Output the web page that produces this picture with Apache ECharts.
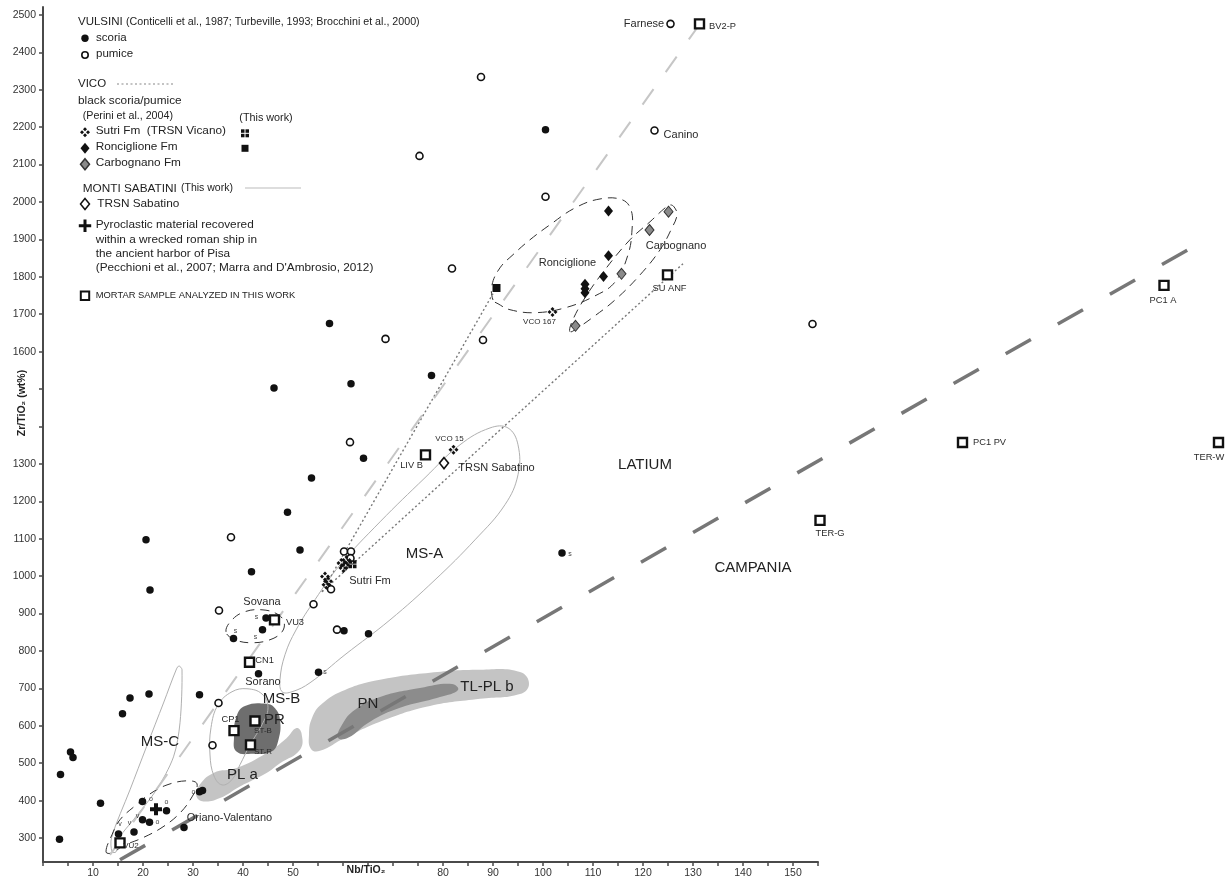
<!DOCTYPE html>
<html><head><meta charset="utf-8">
<script src="https://cdn.jsdelivr.net/npm/echarts@6/dist/echarts.min.js"></script>
<style>html,body{margin:0;padding:0;background:#fff}#c{width:1226px;height:881px}</style>
</head><body><div id="c"></div>
<script>
// ---------------- DATA (Nb/TiO2, Zr/TiO2) ----------------
const xTickValues = [0,5,10,15,20,25,30,35,40,45,50,55,60,65,70,75,80,85,90,95,100,105,110,115,120,125,130,135,140,145,150,155];
const xLabelValues = [10,20,30,40,50,80,90,100,110,120,130,140,150];
const yTickValues = [300,400,500,600,700,800,900,1000,1100,1200,1300,1400,1500,1600,1700,1800,1900,2000,2100,2200,2300,2400,2500];
const yLabelValues = [300,400,500,600,700,800,900,1000,1100,1200,1300,1600,1700,1800,1900,2000,2100,2200,2300,2400,2500];

const vulsiniScoria = [[100.5,2193],[57.3,1675],[77.7,1536],[61.6,1514],[46.2,1503],[64.1,1315],[53.7,1262],[48.9,1171],[20.6,1097],[51.4,1070],[41.7,1012],[21.4,963],[103.8,1062],[44.6,888],[43.9,857],[38.1,833],[60.2,854],[65.1,846],[43.1,739],[55.1,743],[17.4,674],[21.2,685],[31.3,683],[15.9,632],[31.9,427],[31.3,424],[11.5,393],[19.9,398],[24.7,373],[19.9,349],[21.3,342],[18.2,316],[15.1,311],[28.2,328],[3.5,470],[5.5,530],[6.0,515],[3.3,297]];
const vulsiniPumice = [[125.5,2476],[87.6,2334],[75.3,2123],[122.3,2191],[100.5,2014],[81.8,1822],[68.5,1634],[88.0,1631],[61.4,1358],[60.2,1066],[61.6,1066],[61.5,1048],[57.6,965],[37.6,1104],[35.2,908],[54.1,925],[58.8,857],[35.1,661],[33.9,548],[153.9,1674]];
const vicoSutri = [[101.9,1706],[82.1,1338],[59.7,1035],[60.4,1030],[60.1,1022],[60.7,1043],[56.4,999],[57.0,986],[56.7,977]];
const sutriThisWork = [[61.9,1032]];
const vicoRonciglione = [[113.1,1976],[113.1,1856],[112.1,1801],[108.4,1780],[108.4,1768],[108.4,1757]];
const ronciglioneThisWork = [[90.7,1770]];
const vicoCarbognano = [[125.1,1974],[121.3,1925],[115.7,1808],[106.5,1669]];
const trsnSabatino = [[80.2,1302]];
const pisaShip = [[22.6,377]];
const mortarNames = ['BV2-P','SU ANF','PC1 A','LIV B','PC1 PV','TER-W','TER-G','VU3','CN1','CP1','ST-B','ST-R','VU2'];
const mortarNb = [131.3,124.9,224.2,76.5,183.9,235.1,155.4,46.3,41.3,38.2,42.4,41.5,15.4];
const mortarZr = [2476,1805,1777,1324,1357,1357,1149,883,770,587,613,549,287];

// fields / envelopes
const fieldMSC = [[13.8,263],[13.7,301],[17.4,429],[20.7,544],[24.1,661],[26.7,752],[27.2,760],[27.8,750],[27.4,608],[26.1,517],[22.7,429],[18.1,349],[15.4,303],[14.6,263]];
const fieldMSB = [[40.8,699],[37.8,691],[35.0,656],[33.6,595],[33.4,522],[34.2,466],[35.8,442],[37.8,456],[39.4,496],[41.4,549],[43.8,603],[45.0,648],[43.8,685]];
const fieldPR = [[40.4,653],[44.7,659],[46.4,647],[47.4,616],[47.1,563],[45.7,531],[42.1,525],[38.7,531],[38.2,571],[38.7,625]];
const fieldPLa = [[30.7,411],[31.1,438],[34.1,474],[38.7,487],[44.7,527],[48.7,567],[50.7,594],[51.7,580],[51.4,536],[47.4,500],[44.7,474],[39.4,438],[35.4,407],[32.1,398]];
const fieldTLPLb = [[53.2,576],[53.8,621],[55.8,659],[60.4,696],[67.4,723],[77.4,742],[87.4,750],[95.4,744],[97.2,712],[95.4,685],[87.4,672],[77.4,653],[68.4,616],[60.4,568],[55.4,533],[53.6,538]];
const fieldPN = [[59.0,568],[59.8,603],[62.4,643],[67.4,677],[75.4,701],[81.8,712],[83.0,696],[79.4,677],[71.4,648],[65.4,611],[61.0,568]];
const fieldMSA = [[47.4,723],[48.4,790],[50.6,856],[54.4,937],[59.4,1030],[67.4,1145],[76.4,1263],[83.4,1351],[89.4,1396],[93.0,1396],[95.0,1351],[95.0,1271],[92.4,1191],[86.4,1097],[78.4,990],[69.4,883],[60.4,790],[53.4,715],[49.8,691],[47.8,691]];
const loopRonciglione = [[90.0,1738],[89.8,1778],[91.4,1824],[94.0,1859],[97.4,1899],[101.4,1939],[106.4,1984],[111.4,2008],[115.8,2006],[117.6,1979],[117.8,1925],[117.0,1859],[114.4,1786],[110.4,1749],[104.4,1717],[98.4,1704],[93.4,1712],[91.0,1728]];
const loopCarbognano = [[105.4,1653],[105.8,1680],[108.4,1744],[112.4,1819],[117.4,1899],[121.4,1947],[124.4,1984],[125.4,1992],[126.2,1987],[126.8,1966],[125.8,1931],[123.4,1872],[119.4,1805],[114.4,1738],[109.8,1690],[107.0,1664]];
const loopSovana = [[36.6,851],[37.8,883],[40.4,905],[43.8,910],[46.8,899],[48.2,878],[47.8,851],[45.4,830],[41.8,822],[38.4,830]];
const loopOriano = [[12.6,263],[13.8,309],[15.4,349],[18.4,386],[21.4,418],[24.8,442],[28.8,453],[30.8,445],[29.8,410],[27.4,367],[24.0,330],[20.0,301],[16.0,279],[13.8,260]];
const vicoLineA = [[55.8,958],[90.0,1755]];
const vicoLineB = [[55.8,958],[128.0,1835]];
const vulsiniTrend = [[13.4,255],[130.8,2465]];
const latiumCampania = [[15.4,242],[233.8,1909]];

// text annotations [Nb/TiO2, Zr/TiO2, text]
const labelsField = [[76.3,1060,'MS-A'],[47.7,671,'MS-B'],[46.3,616,'PR'],[23.4,558,'MS-C'],[39.9,469,'PL a'],[65,659,'PN'],[88.8,704,'TL-PL b'],[120.4,1297,'LATIUM'],[142,1022,'CAMPANIA']];
const labelsSite = [[120.2,2476,'Farnese'],[127.6,2179,'Canino'],[104.9,1836,'Ronciglione'],[126.6,1883,'Carbognano'],[90.7,1289,'TRSN Sabatino'],[65.4,986,'Sutri Fm'],[43.8,930,'Sovana'],[44.0,716,'Sorano'],[37.3,353,'Oriano-Valentano']];
const labelsSample = [[135.9,2469,'BV2-P'],[125.3,1770,'SU ANF'],[224.0,1736,'PC1 A'],[189.3,1357,'PC1 PV'],[233.2,1318,'TER-W'],[157.4,1113,'TER-G'],[73.7,1297,'LIV B'],[50.4,876,'VU3'],[44.3,774,'CN1'],[37.5,616,'CP1']];
const labelsSmall = [[99.3,1679,'VCO 167'],[81.3,1366,'VCO 15'],[44.0,587,'ST-B'],[44.0,530,'ST-R'],[17.6,279,'VU2']];
const labelsTiny = [[56.4,744,'s'],[105.4,1060,'s'],[42.7,890,'s'],[38.5,852,'s'],[42.5,837,'s'],[30.1,422,'o'],[21.6,404,'o'],[24.7,395,'o'],[22.9,342,'o'],[18.9,360,'v'],[15.4,337,'v'],[17.3,340,'v']];

// ---------------- CHART ----------------
const FONT = 'Liberation Sans';
const INK = '#111';
const chart = echarts.init(document.getElementById('c'), null, {renderer: 'canvas'});

const SYM_SUTRI = 'path://M5,0L7,2L5,4L3,2Z M10,5L8,7L6,5L8,3Z M5,10L3,8L5,6L7,8Z M0,5L2,3L4,5L2,7Z';
const SYM_XSQ = 'path://M0,0h4v4h-4z M5,0h4v4h-4z M0,5h4v4h-4z M5,5h4v4h-4z';
const SYM_CROSS = 'path://M4,0h4v4h4v4h-4v4h-4v-4h-4v-4h4z';

function shape(name, pts, style, z, closed, smooth) {
  return {
    type: 'custom', name: name, xAxisIndex: 0, yAxisIndex: 0, silent: true, z: z,
    data: [pts[0]],
    renderItem: function (params, api) {
      return {
        type: closed ? 'polygon' : 'polyline',
        shape: { points: pts.map(function (p) { return api.coord(p); }), smooth: smooth || 0 },
        style: style
      };
    }
  };
}
function texts(name, arr, size, color) {
  return {
    type: 'custom', name: name, xAxisIndex: 0, yAxisIndex: 0, silent: true, z: 20,
    data: arr.map(function (a) { return [a[0], a[1]]; }),
    renderItem: function (params, api) {
      const a = arr[params.dataIndex];
      const c = api.coord([a[0], a[1]]);
      return { type: 'text', x: c[0], y: c[1],
        style: { text: a[2], fill: color, fontSize: size, fontFamily: FONT, align: 'center', verticalAlign: 'middle' } };
    }
  };
}
function pts(name, data, symbol, size, itemStyle, z, keep) {
  return { type: 'scatter', name: name, data: data, symbol: symbol, symbolSize: size, symbolKeepAspect: !!keep,
    itemStyle: Object.assign({ opacity: 1 }, itemStyle), z: z, silent: true };
}

const outline = { fill: null, stroke: '#b0b0b0', lineWidth: 1 };
const dashLoop = { fill: null, stroke: '#333', lineWidth: 1, lineDash: [9, 6] };

const series = [
  shape('TL-PL b', fieldTLPLb, { fill: '#c4c4c4', stroke: null }, 1, true, 0.45),
  shape('PN', fieldPN, { fill: '#8c8c8c', stroke: null }, 2, true, 0.45),
  shape('PL a', fieldPLa, { fill: '#c4c4c4', stroke: null }, 1, true, 0.45),
  shape('PR', fieldPR, { fill: '#6e6e6e', stroke: null }, 2, true, 0.45),
  shape('MS-A', fieldMSA, outline, 3, true, 0.4),
  shape('MS-B', fieldMSB, outline, 3, true, 0.4),
  shape('MS-C', fieldMSC, outline, 3, true, 0.3),
  shape('Ronciglione envelope', loopRonciglione, dashLoop, 3, true, 0.4),
  shape('Carbognano envelope', loopCarbognano, dashLoop, 3, true, 0.4),
  shape('Sovana envelope', loopSovana, dashLoop, 3, true, 0.4),
  shape('Oriano-Valentano envelope', loopOriano, dashLoop, 3, true, 0.4),
  shape('VICO A', vicoLineA, { fill: null, stroke: '#777', lineWidth: 1.4, lineDash: [2, 2.5] }, 3, false),
  shape('VICO B', vicoLineB, { fill: null, stroke: '#777', lineWidth: 1.4, lineDash: [2, 2.5] }, 3, false),
  shape('Vulsini trend', vulsiniTrend, { fill: null, stroke: '#c6c6c6', lineWidth: 2, lineDash: [19, 21] }, 3, false),
  shape('Latium-Campania', latiumCampania, { fill: null, stroke: '#777', lineWidth: 3.5, lineDash: [29, 31] }, 3, false),

  pts('scoria', vulsiniScoria, 'circle', 7.5, { color: INK }, 6),
  pts('pumice', vulsiniPumice, 'circle', 7, { color: '#fff', borderColor: INK, borderWidth: 1.6 }, 6),
  pts('Sutri Fm (TRSN Vicano)', vicoSutri, SYM_SUTRI, 10, { color: INK }, 7, true),
  pts('Sutri Fm (This work)', sutriThisWork, SYM_XSQ, 8, { color: INK }, 7, true),
  pts('Ronciglione Fm', vicoRonciglione, 'diamond', [9, 11], { color: INK }, 7),
  pts('Ronciglione Fm (This work)', ronciglioneThisWork, 'rect', 8, { color: INK }, 7),
  pts('Carbognano Fm', vicoCarbognano, 'diamond', [9, 11], { color: '#8a8a8a', borderColor: '#333', borderWidth: 1 }, 7),
  pts('TRSN Sabatino', trsnSabatino, 'diamond', [9, 11], { color: '#fff', borderColor: INK, borderWidth: 1.6 }, 7),
  pts('Pisa ship', pisaShip, SYM_CROSS, 12, { color: INK }, 7, true),
  pts('Mortar', mortarNb.map(function (x, i) { return [x, mortarZr[i], mortarNames[i]]; }), 'rect', 9, { color: '#fff', borderColor: INK, borderWidth: 2.4 }, 8),

  texts('field labels', labelsField, 15, '#222'),
  texts('site labels', labelsSite, 11, '#2a2a2a'),
  texts('sample labels', labelsSample, 9.3, '#2a2a2a'),
  texts('small labels', labelsSmall, 8, '#2a2a2a'),
  texts('tiny labels', labelsTiny, 7, '#444')
];

// legend graphics (pixel layout)
function gt(x, y, text, size, extra) {
  return Object.assign({ type: 'text', x: x, y: y, z: 50,
    style: { text: text, fill: '#222', fontSize: size, fontFamily: FONT, align: 'left', verticalAlign: 'middle' } }, extra || {});
}
function diamond(cx, cy, fill, stroke) {
  return { type: 'polygon', z: 50, shape: { points: [[cx, cy - 5.5], [cx + 4.5, cy], [cx, cy + 5.5], [cx - 4.5, cy]] },
    style: { fill: fill, stroke: stroke || null, lineWidth: 1.5 } };
}
function sutriSym(cx, cy) {
  const o = 3;
  return [[0, -o], [o, 0], [0, o], [-o, 0]].map(function (d) {
    const x = cx + d[0], y = cy + d[1];
    return { type: 'polygon', z: 50, shape: { points: [[x, y - 2], [x + 2, y], [x, y + 2], [x - 2, y]] }, style: { fill: INK } };
  });
}
function xsq(cx, cy) {
  return [[-4, -4], [0.5, -4], [-4, 0.5], [0.5, 0.5]].map(function (d) {
    return { type: 'rect', z: 50, shape: { x: cx + d[0], y: cy + d[1], width: 3.5, height: 3.5 }, style: { fill: INK } };
  });
}

const graphic = [].concat(
  [
    gt(78, 22, 'VULSINI', 11.5),
    gt(126, 22, '(Conticelli et al., 1987; Turbeville, 1993; Brocchini et al., 2000)', 10.7),
    { type: 'circle', z: 50, shape: { cx: 85, cy: 38.3, r: 3.7 }, style: { fill: INK } },
    gt(96, 37.5, 'scoria', 11.5),
    { type: 'circle', z: 50, shape: { cx: 85, cy: 55, r: 3.2 }, style: { fill: '#fff', stroke: INK, lineWidth: 1.6 } },
    gt(96, 54, 'pumice', 11.5),
    gt(78, 84, 'VICO', 11.5),
    { type: 'line', z: 50, shape: { x1: 117, y1: 84, x2: 173, y2: 84 }, style: { stroke: '#888', lineWidth: 1.2, lineDash: [2, 2.5] } },
    gt(78, 100.7, 'black scoria/pumice', 11.8),
    gt(82.7, 116, '(Perini et al., 2004)', 10.7),
    gt(239.3, 117.7, '(This work)', 10.8),
    gt(95.7, 131, 'Sutri Fm  (TRSN Vicano)', 11.8),
    diamond(85, 148.3, INK),
    gt(95.7, 147, 'Ronciglione Fm', 11.8),
    { type: 'rect', z: 50, shape: { x: 241.5, y: 144.8, width: 7, height: 7 }, style: { fill: INK } },
    diamond(85, 164.3, '#8a8a8a', '#333'),
    gt(95.7, 162.5, 'Carbognano Fm', 11.8),
    gt(82.7, 188.3, 'MONTI SABATINI', 11.8),
    gt(181, 188.3, '(This work)', 10.5),
    { type: 'line', z: 50, shape: { x1: 245, y1: 188, x2: 301, y2: 188 }, style: { stroke: '#bbb', lineWidth: 1.2 } },
    diamond(85, 204, '#fff', INK),
    gt(97.3, 204, 'TRSN Sabatino', 11.8),
    { type: 'polygon', z: 50, shape: { points: [[83.5, 219.5], [86.5, 219.5], [86.5, 224.2], [91.2, 224.2], [91.2, 227.2], [86.5, 227.2], [86.5, 231.9], [83.5, 231.9], [83.5, 227.2], [78.8, 227.2], [78.8, 224.2], [83.5, 224.2]] }, style: { fill: INK } },
    gt(95.7, 225, 'Pyroclastic material recovered', 11.8),
    gt(95.7, 239.3, 'within a wrecked roman ship in', 11.8),
    gt(95.7, 253.3, 'the ancient harbor of Pisa', 11.8),
    gt(95.7, 267.7, "(Pecchioni et al., 2007; Marra and D'Ambrosio, 2012)", 11.8),
    { type: 'rect', z: 50, shape: { x: 80.8, y: 291.5, width: 8.4, height: 8.4 }, style: { fill: '#fff', stroke: INK, lineWidth: 2 } },
    gt(95.7, 295.7, 'MORTAR SAMPLE ANALYZED IN THIS WORK', 9.4),
    // axis names
    { type: 'text', x: 22, y: 403, rotation: Math.PI / 2, z: 50,
      style: { text: 'Zr/TiO\u2082 (wt%)', fill: '#222', fontSize: 10.5, fontWeight: 'bold', fontFamily: FONT, align: 'center', verticalAlign: 'middle' } },
    { type: 'text', x: 366, y: 870, z: 50,
      style: { text: 'Nb/TiO\u2082', fill: '#222', fontSize: 10.5, fontWeight: 'bold', fontFamily: FONT, align: 'center', verticalAlign: 'middle' } }
  ],
  sutriSym(85, 132.3),
  xsq(245, 133.3)
);

const AXIS_COLOR = '#4a4a4a';
const option = {
  animation: false,
  backgroundColor: '#fff',
  grid: [
    { left: 43, top: 7, width: 1180, height: 855 },
    { left: 43, top: 7, width: 775, height: 855 }
  ],
  xAxis: [
    { type: 'value', gridIndex: 0, min: 0, max: 236, show: false },
    { type: 'value', gridIndex: 1, min: 0, max: 155, position: 'bottom',
      axisLine: { show: true, onZero: false, lineStyle: { color: AXIS_COLOR, width: 2 } },
      axisTick: { show: true, length: 4, inside: false, customValues: xTickValues, lineStyle: { color: AXIS_COLOR, width: 1.5 } },
      axisLabel: { show: true, customValues: xLabelValues, margin: 6, color: '#333', fontSize: 10.5, fontFamily: FONT, formatter: function (v) { return String(v); } },
      splitLine: { show: false } }
  ],
  yAxis: [
    { type: 'value', gridIndex: 0, min: 236, max: 2521,
      axisLine: { show: true, onZero: false, lineStyle: { color: AXIS_COLOR, width: 2 } },
      axisTick: { show: true, length: 4, inside: false, customValues: yTickValues, lineStyle: { color: AXIS_COLOR, width: 1.5 } },
      axisLabel: { show: true, customValues: yLabelValues, margin: 7, color: '#333', fontSize: 10.5, fontFamily: FONT, formatter: function (v) { return String(v); } },
      splitLine: { show: false } },
    { type: 'value', gridIndex: 1, min: 0, max: 1, show: false }
  ],
  graphic: graphic,
  series: series
};
chart.setOption(option);
</script>
</body></html>
